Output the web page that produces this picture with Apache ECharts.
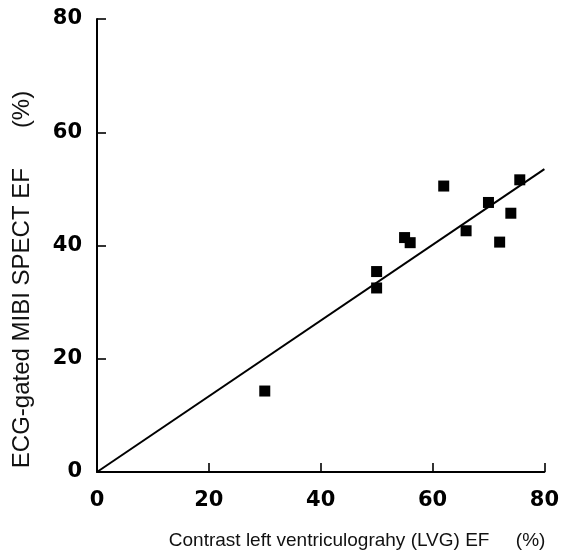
<!DOCTYPE html>
<html>
<head>
<meta charset="utf-8">
<script src="https://cdn.jsdelivr.net/npm/echarts@6/dist/echarts.min.js"></script>
<style>html,body{margin:0;padding:0;background:#fff;}#c{width:562px;height:552px;}</style>
</head>
<body>
<div id="c"></div>
<script>
var lvgEF = [30, 50, 50, 55, 56, 62, 66, 70, 72, 74, 75.6];
var spectEF = [14.3, 35.4, 32.5, 41.4, 40.5, 50.5, 42.6, 47.6, 40.6, 45.7, 51.6];
var fitX = [0, 80];
var fitY = [0, 53.5];
var xTicks = [0, 20, 40, 60, 80];
var yTicks = [0, 20, 40, 60, 80];
var xTitle = 'Contrast left ventriculograhy (LVG) EF     (%)';
var yTitle = 'ECG-gated MIBI SPECT EF      (%)';

var chart = echarts.init(document.getElementById('c'));
var font = 'Liberation Sans, Arial, Helvetica, sans-serif';
var tickFont = 'DejaVu Sans, Liberation Sans, Arial, sans-serif';
chart.setOption({
  animation: false,
  backgroundColor: '#fff',
  grid: {left: 97, top: 19, right: 13, bottom: 80},
  xAxis: {
    type: 'value', min: 0, max: 80, interval: 20,
    name: xTitle, nameLocation: 'end', nameGap: 1,
    nameTextStyle: {fontFamily: font, fontSize: 19, color: '#111', align: 'right', verticalAlign: 'top', padding: [59, 0, 0, 0]},
    axisLine: {lineStyle: {color: '#000', width: 2}},
    axisTick: {inside: true, length: 9, lineStyle: {color: '#000', width: 1.6}},
    splitLine: {show: false},
    axisLabel: {fontFamily: tickFont, fontSize: 21, fontWeight: 'bold', color: '#000', margin: 18,
      formatter: function(v){ return xTicks.indexOf(v) >= 0 ? String(v) : ''; }}
  },
  yAxis: {
    type: 'value', min: 0, max: 80, interval: 20,
    name: yTitle, nameLocation: 'middle', nameGap: 63,
    nameTextStyle: {fontFamily: font, fontSize: 24, color: '#111', padding: [0, 68, 0, 0]},
    axisLine: {lineStyle: {color: '#000', width: 2}},
    axisTick: {inside: true, length: 9, lineStyle: {color: '#000', width: 1.6}},
    splitLine: {show: false},
    axisLabel: {fontFamily: tickFont, fontSize: 21, fontWeight: 'bold', color: '#000', margin: 15,
      formatter: function(v){ return yTicks.indexOf(v) >= 0 ? String(v) : ''; }}
  },
  series: [
    {
      type: 'line', data: fitX.map(function(x, i){ return [x, fitY[i]]; }),
      symbol: 'none', lineStyle: {color: '#000', width: 2}, z: 2
    },
    {
      type: 'scatter', data: lvgEF.map(function(x, i){ return [x, spectEF[i]]; }),
      symbol: 'rect', symbolSize: 11, itemStyle: {color: '#000', opacity: 1}, z: 3
    }
  ]
});
</script>
</body>
</html>
